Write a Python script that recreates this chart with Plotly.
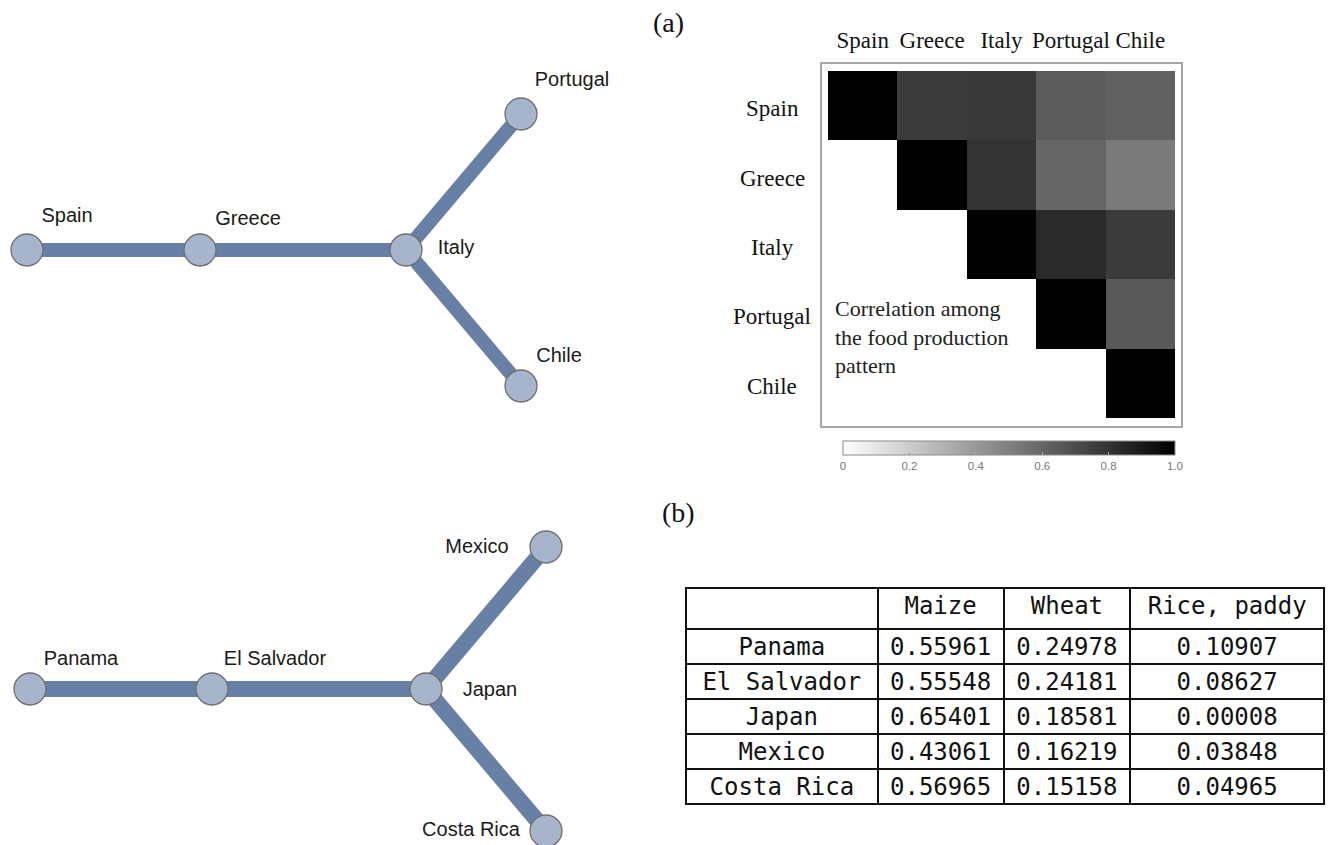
import plotly.graph_objects as go

W, H = 1330, 845
OFF = 0  # body margin removed by post_script

# ---------------- data ----------------
# network (a): node layout coordinates
net_a_nodes = ["Spain", "Greece", "Italy", "Portugal", "Chile"]
net_a_x = [27, 200, 406, 521, 521]
net_a_y = [250, 250, 250, 114, 386]
net_a_label_x = [67, 248, 456, 572, 559]
net_a_label_y = [217, 220, 249, 81, 357]
net_a_edges = [("Spain", "Greece"), ("Greece", "Italy"), ("Italy", "Portugal"), ("Italy", "Chile")]

# network (b)
net_b_nodes = ["Panama", "El Salvador", "Japan", "Mexico", "Costa Rica"]
net_b_x = [30, 212, 426, 546, 546]
net_b_y = [689, 689, 689, 547, 831]
net_b_label_x = [81, 275, 490, 477, 471]
net_b_label_y = [660, 660, 691, 548, 831]
net_b_edges = [("Panama", "El Salvador"), ("El Salvador", "Japan"), ("Japan", "Mexico"), ("Japan", "Costa Rica")]

# correlation heatmap (upper triangle)
corr_labels = ["Spain", "Greece", "Italy", "Portugal", "Chile"]
corr_z = [
    [1.00, 0.77, 0.78, 0.64, 0.62],
    [None, 1.00, 0.80, 0.60, 0.52],
    [None, None, 1.00, 0.84, 0.77],
    [None, None, None, 1.00, 0.65],
    [None, None, None, None, 1.00],
]
cbar_tickvals = [0, 0.2, 0.4, 0.6, 0.8, 1.0]
cbar_ticktext = ["0", "0.2", "0.4", "0.6", "0.8", "1.0"]

# table (b)
table_header = ["", "Maize", "Wheat", "Rice, paddy"]
table_countries = ["Panama", "El Salvador", "Japan", "Mexico", "Costa Rica"]
maize = ["0.55961", "0.55548", "0.65401", "0.43061", "0.56965"]
wheat = ["0.24978", "0.24181", "0.18581", "0.16219", "0.15158"]
rice = ["0.10907", "0.08627", "0.00008", "0.03848", "0.04965"]


def px(x):
    return (x - OFF) / W


def py(y):
    return 1 - (y - OFF) / H


# ---------------- figure ----------------
fig = go.Figure()

EDGE_COLOR = "#6880a6"
NODE_FILL = "#a6b5cb"
NODE_LINE = "#6e6e6e"
SANS = "Liberation Sans, Arial, sans-serif"
SERIF = "Liberation Serif, Times New Roman, serif"
MONO = "DejaVu Sans Mono, monospace"


def add_network(nodes, xs, ys, lx, ly, edges, ewidth):
    pos = {n: (x, y) for n, x, y in zip(nodes, xs, ys)}
    for a, b in edges:
        fig.add_trace(go.Scatter(
            x=[pos[a][0], pos[b][0]], y=[pos[a][1], pos[b][1]],
            mode="lines", line=dict(color=EDGE_COLOR, width=ewidth),
            hoverinfo="skip", showlegend=False, xaxis="x", yaxis="y"))
    fig.add_trace(go.Scatter(
        x=xs, y=ys, mode="markers",
        marker=dict(size=32, color=NODE_FILL, line=dict(color=NODE_LINE, width=1.3)),
        text=nodes, hoverinfo="text", showlegend=False, xaxis="x", yaxis="y"))
    fig.add_trace(go.Scatter(
        x=lx, y=ly, mode="text", text=nodes,
        textfont=dict(family=SANS, size=20, color="#1a1a1a"),
        hoverinfo="skip", showlegend=False, xaxis="x", yaxis="y"))


add_network(net_a_nodes, net_a_x, net_a_y, net_a_label_x, net_a_label_y, net_a_edges, 14)
add_network(net_b_nodes, net_b_x, net_b_y, net_b_label_x, net_b_label_y, net_b_edges, 16)

# heatmap
fig.add_trace(go.Heatmap(
    z=corr_z, x=corr_labels, y=corr_labels,
    colorscale=[[0, "#ffffff"], [1, "#000000"]], zmin=0, zmax=1,
    hoverongaps=False, xaxis="x2", yaxis="y2",
    colorbar=dict(
        orientation="h", x=px((843 + 1175) / 2), xanchor="center",
        y=py(441), yanchor="top", len=332 / W, lenmode="fraction",
        thickness=14, xpad=0, ypad=0,
        outlinewidth=1, outlinecolor="#8a8a8a",
        tickvals=cbar_tickvals, ticktext=cbar_ticktext,
        ticks="inside", ticklen=3, tickcolor="#aaaaaa",
        tickfont=dict(family=SANS, size=11.5, color="#777777"),
    ),
))

# table
fig.add_trace(go.Table(
    domain=dict(x=[px(686), px(1325)], y=[0, py(588)]),
    columnwidth=[192, 126, 127, 194],
    header=dict(values=table_header, height=41, align="center",
                fill=dict(color="white"), line=dict(color="#111111", width=2),
                font=dict(family=MONO, size=24, color="#111111")),
    cells=dict(values=[table_countries, maize, wheat, rice], height=35, align="center",
               fill=dict(color="white"), line=dict(color="#111111", width=2),
               font=dict(family=MONO, size=24, color="#111111")),
))

# row labels of heatmap
annotations = []
for lab in corr_labels:
    annotations.append(dict(x=px(772), xref="paper", y=lab, yref="y2", text=lab,
                            showarrow=False, xanchor="center", yanchor="middle", yshift=-3,
                            font=dict(family=SERIF, size=23, color="#111111")))
annotations += [
    dict(x=px(833), y=py(294), xref="paper", yref="paper", xanchor="left", yanchor="top",
         align="left", showarrow=False,
         text="Correlation among<br>the food production<br>pattern",
         font=dict(family=SERIF, size=22, color="#222222")),
    dict(x=px(668), y=py(22), xref="paper", yref="paper", text="(a)", showarrow=False,
         xanchor="center", yanchor="middle", font=dict(family=SERIF, size=28, color="#111111")),
    dict(x=px(678), y=py(512), xref="paper", yref="paper", text="(b)", showarrow=False,
         xanchor="center", yanchor="middle", font=dict(family=SERIF, size=28, color="#111111")),
]

fig.update_layout(
    width=W, height=H, margin=dict(l=0, r=0, t=0, b=0),
    paper_bgcolor="white", plot_bgcolor="white",
    showlegend=False,
    xaxis=dict(domain=[0, 1], range=[OFF, W + OFF], visible=False, fixedrange=True),
    yaxis=dict(domain=[0, 1], range=[H + OFF, OFF], visible=False, fixedrange=True),
    xaxis2=dict(domain=[px(828), px(1175)], anchor="y2", side="top", showgrid=False,
                zeroline=False, showline=False, ticks="", ticklabelstandoff=17,
                tickfont=dict(family=SERIF, size=23, color="#111111")),
    yaxis2=dict(domain=[py(418), py(71)], anchor="x2", autorange="reversed",
                showgrid=False, zeroline=False, showline=False, showticklabels=False, ticks=""),
    annotations=annotations,
    shapes=[dict(type="rect", xref="paper", yref="paper",
                 x0=px(821), x1=px(1182), y0=py(427), y1=py(63),
                 line=dict(color="#8a8a8a", width=1.5))],
)

fig.write_html("out.html", config={"displayModeBar": False},
               post_script="document.body.style.margin='0';")
